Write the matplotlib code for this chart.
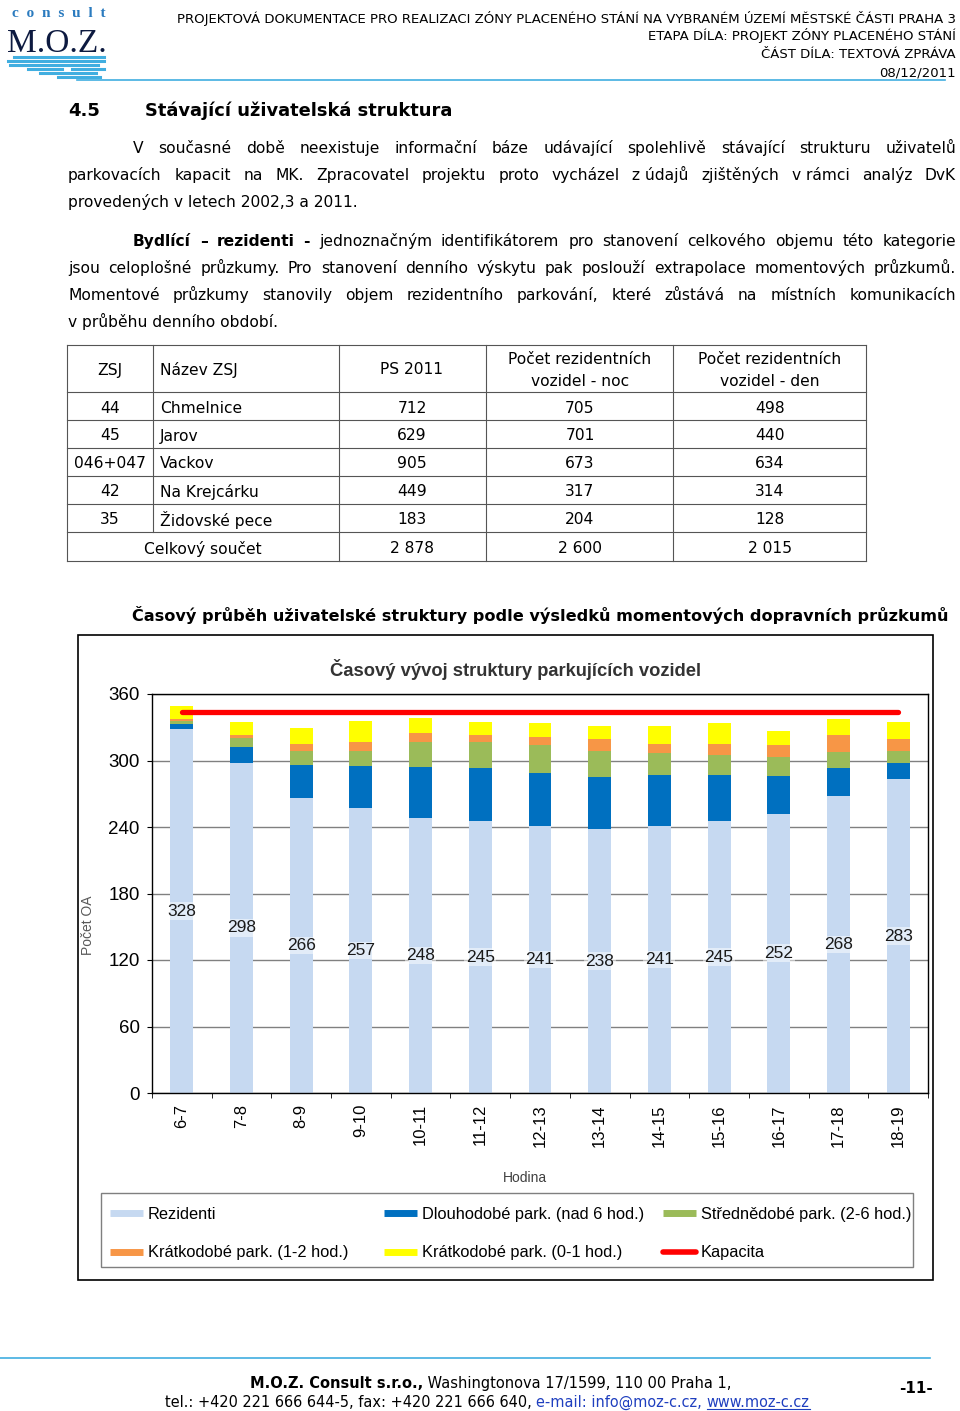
import numpy as np
import matplotlib
matplotlib.use('Agg')
import matplotlib.pyplot as plt
from matplotlib.lines import Line2D
from matplotlib.patches import Rectangle

# tabulka ZSJ
zsj = ['44', '45', '046+047', '42', '35']
nazev_zsj = ['Chmelnice', 'Jarov', 'Vackov', 'Na Krejcárku', 'Židovské pece']
ps_2011 = [712, 629, 905, 449, 183]
rez_noc = [705, 701, 673, 317, 204]
rez_den = [498, 440, 634, 314, 128]
soucet = ['2 878', '2 600', '2 015']

# graf - casovy vyvoj
hodiny = ['6-7', '7-8', '8-9', '9-10', '10-11', '11-12', '12-13',
          '13-14', '14-15', '15-16', '16-17', '17-18', '18-19']
rezidenti = [328, 298, 266, 257, 248, 245, 241, 238, 241, 245, 252, 268, 283]
dlouhodobe = [5, 14, 30, 38, 46, 48, 48, 47, 46, 42, 34, 25, 15]
strednedobe = [3, 8, 13, 14, 23, 24, 25, 24, 20, 18, 17, 15, 11]
kratkodobe_12 = [1, 3, 6, 8, 8, 6, 7, 10, 8, 10, 11, 15, 10]
kratkodobe_01 = [12, 12, 14, 19, 13, 12, 13, 12, 16, 19, 13, 14, 16]
kapacita = 344

hlavicka = ['PROJEKTOVÁ DOKUMENTACE PRO REALIZACI ZÓNY PLACENÉHO STÁNÍ NA VYBRANÉM ÚZEMÍ MĚSTSKÉ ČÁSTI PRAHA 3',
            'ETAPA DÍLA: PROJEKT ZÓNY PLACENÉHO STÁNÍ',
            'ČÁST DÍLA: TEXTOVÁ ZPRÁVA',
            '08/12/2011']

odst1 = ['V současné době neexistuje informační báze udávající spolehlivě stávající strukturu uživatelů',
         'parkovacích kapacit na MK. Zpracovatel projektu proto vycházel z\u00a0údajů zjištěných v\u00a0rámci analýz DvK',
         'provedených v letech 2002,3 a 2011.']
odst2 = ['Bydlící – rezidenti - jednoznačným identifikátorem pro stanovení celkového objemu této kategorie',
         'jsou celoplošné průzkumy. Pro stanovení denního výskytu pak poslouží extrapolace momentových průzkumů.',
         'Momentové průzkumy stanovily objem rezidentního parkování, které zůstává na místních komunikacích',
         'v průběhu denního období.']

BODY = 'DejaVu Sans'
CHART = 'Liberation Sans'
W, H = 960, 1411

fig = plt.figure(figsize=(9.6, 14.11), dpi=100)
rend = fig.canvas.get_renderer()


def fx(x):
    return x / W


def fy(y):
    return 1 - y / H


def txt(x, y, s, size=11, bold=False, ha='left', va='baseline', color='black', family=BODY, **kw):
    return fig.text(fx(x), fy(y), s, fontsize=size, fontweight='bold' if bold else 'normal',
                    ha=ha, va=va, color=color, family=family, **kw)


def width(t):
    return t.get_window_extent(rend).width


def fit(x, y, s, w, size, **kw):
    t = txt(x, y, s, size, **kw)
    t.set_fontsize(size * w / width(t))
    return t


def hline(x0, x1, y, color='#404040', lw=0.8):
    fig.add_artist(Line2D([fx(x0), fx(x1)], [fy(y), fy(y)], transform=fig.transFigure, color=color, lw=lw))


def vline(x, y0, y1, color='#404040', lw=0.8):
    fig.add_artist(Line2D([fx(x), fx(x)], [fy(y0), fy(y1)], transform=fig.transFigure, color=color, lw=lw))


def justify(x0, x1, y, line, size, nbold=0):
    words = line.split(' ')
    ts = [txt(x0, y, w, size, bold=i < nbold) for i, w in enumerate(words)]
    ws = [width(t) for t in ts]
    gap = (x1 - x0 - sum(ws)) / (len(ts) - 1)
    x = x0
    for t, w in zip(ts, ws):
        t.set_x(fx(x))
        x += w + gap


def runs(x0, x1, y, parts, size=11):
    # parts: (text, bold, color); scaled so the whole line spans x0..x1
    ts = [txt(x0, y, s, size, bold=b, color=c) for s, b, c in parts]
    k = (x1 - x0) / sum(width(t) for t in ts)
    x = x0
    for t in ts:
        t.set_fontsize(size * k)
    for t in ts:
        t.set_x(fx(x))
        x += width(t)
    return ts


# ---- logo + hlavicka
fit(12, 17, 'c  o  n  s  u  l  t', 93, 8, bold=True, color='#2b7bbf', family='Liberation Serif')
fit(7, 52, 'M.O.Z.', 100, 24, color='#0d1a40', family='Liberation Serif')
for yy, a, b in [(57, 14, 104), (61, 8, 104), (65, 10, 98), (69, 28, 62), (69, 72, 104),
                 (73, 40, 96), (77, 58, 100)]:
    hline(a, b, yy, color='#41aee0', lw=2.2)
hline(77, 945, 80, color='#41aee0', lw=1.2)

t0 = fit(956, 23, hlavicka[0], 784, 9, ha='right')
hs = t0.get_fontsize()
for yy, s in zip([40, 58, 76], hlavicka[1:]):
    txt(956, yy, s, hs, ha='right')

# ---- nadpis a text
txt(68, 116, '4.5', 13, bold=True)
fit(145, 116, 'Stávající uživatelská struktura', 305, 13, bold=True)

bs = 11.2
justify(133, 956, 153, odst1[0], bs)
justify(68, 956, 180, odst1[1], bs)
txt(68, 207, odst1[2], bs)
justify(133, 956, 246, odst2[0], bs, nbold=4)
justify(68, 956, 273, odst2[1], bs)
justify(68, 956, 300, odst2[2], bs)
txt(68, 327, odst2[3], bs)

# ---- tabulka
cols = [67, 153, 339, 486, 673, 866]
rows = [345, 392, 420, 448, 476, 504, 532, 561]
for yy in rows:
    hline(67, 866, yy, color='#555555')
for xx in cols:
    vline(xx, 345, 532 if xx == 153 else 561, color='#555555')

ts = 11.2
txt(110, 370, 'ZSJ', ts, ha='center', va='center')
txt(160, 370, 'Název ZSJ', ts, va='center')
txt(412, 370, 'PS 2011', ts, ha='center', va='center')
for xc, kdy in [(580, 'noc'), (770, 'den')]:
    txt(xc, 359, 'Počet rezidentních', ts, ha='center', va='center')
    txt(xc, 381, 'vozidel - ' + kdy, ts, ha='center', va='center')
for i in range(len(zsj)):
    yc = (rows[i + 1] + rows[i + 2]) / 2 + 2
    txt(110, yc, zsj[i], ts, ha='center', va='center')
    txt(160, yc, nazev_zsj[i], ts, va='center')
    txt(412, yc, str(ps_2011[i]), ts, ha='center', va='center')
    txt(580, yc, str(rez_noc[i]), ts, ha='center', va='center')
    txt(770, yc, str(rez_den[i]), ts, ha='center', va='center')
yc = (rows[-2] + rows[-1]) / 2 + 2
txt(203, yc, 'Celkový součet', ts, ha='center', va='center')
for xc, s in zip([412, 580, 770], soucet):
    txt(xc, yc, s, ts, ha='center', va='center')

fit(132, 621, 'Časový průběh uživatelské struktury podle výsledků momentových dopravních průzkumů',
    812, 12, bold=True)

# ---- graf
fig.add_artist(Rectangle((fx(78), fy(1280)), 855 / W, 645 / H, transform=fig.transFigure,
                         fill=False, ec='black', lw=1.2))

ax = fig.add_axes([fx(152), fy(1093), 776 / W, 399 / H])
x = np.arange(len(hodiny))
serie = [(rezidenti, '#c6d9f1', 'Rezidenti'),
         (dlouhodobe, '#0070c0', 'Dlouhodobé park. (nad 6 hod.)'),
         (strednedobe, '#9bbb59', 'Střednědobé park. (2-6 hod.)'),
         (kratkodobe_12, '#f79646', 'Krátkodobé park. (1-2 hod.)'),
         (kratkodobe_01, '#ffff00', 'Krátkodobé park. (0-1 hod.)')]
bottom = np.zeros(len(hodiny))
for vals, col, lab in serie:
    ax.bar(x, vals, 0.385, bottom=bottom, color=col, zorder=2)
    bottom += np.array(vals)
ax.plot([x[0], x[-1]], [kapacita, kapacita], color='#ff0000', lw=3.8,
        solid_capstyle='round', zorder=3)
for i, v in enumerate(rezidenti):
    ax.text(i, v / 2, str(v), ha='center', va='center', fontsize=12.5, family=CHART,
            color='#1a1a1a', zorder=4,
            bbox=dict(fc='white', alpha=0.5, ec='none', pad=1))

ax.set_xlim(-0.5, 12.5)
ax.set_ylim(0, 360)
ax.set_yticks(range(0, 361, 60))
ax.yaxis.grid(True, color='#808080', lw=1)
ax.set_axisbelow(True)
ax.set_xticks(x)
ax.set_xticklabels(hodiny, rotation=90, family=CHART, fontsize=12)
ax.set_xticks(np.arange(-0.5, 13, 1), minor=True)
ax.tick_params(axis='x', which='major', length=0, pad=8)
ax.tick_params(axis='x', which='minor', length=3.5, direction='out')
ax.tick_params(axis='y', length=3.5, pad=5.5, labelsize=13.5)
for lab in ax.get_yticklabels():
    lab.set_family(CHART)
for sp in ax.spines.values():
    sp.set_linewidth(1)

fig.text(fx(515), fy(670), 'Časový vývoj struktury parkujících vozidel', ha='center', va='center',
         fontsize=13.2, fontweight='bold', family=CHART, color='#333333')
fig.text(fx(88), fy(925), 'Počet OA', rotation=90, ha='center', va='center',
         fontsize=10, family=CHART, color='#595959')
fig.text(fx(525), fy(1178), 'Hodina', ha='center', va='center',
         fontsize=10, family=CHART, color='#404040')

# legenda: tri sloupce po dvou polozkach
hand = [Line2D([], [], color=c, lw=5, solid_capstyle='butt') for _, c, _ in serie]
hand.append(Line2D([], [], color='#ff0000', lw=4, solid_capstyle='round'))
labs = [s[2] for s in serie] + ['Kapacita']
fig.add_artist(Rectangle((fx(101), fy(1267)), 812 / W, 74 / H, transform=fig.transFigure,
                         fill=False, ec='#7f7f7f', lw=1))
for x_col, idx in [(110, [0, 3]), (384, [1, 4]), (663, [2, 5])]:
    fig.legend([hand[i] for i in idx], [labs[i] for i in idx], loc='upper left',
               bbox_to_anchor=(fx(x_col), fy(1207)), frameon=False, borderpad=0,
               borderaxespad=0, handlelength=2.0, handletextpad=0.3, labelspacing=1.42,
               prop={'family': CHART, 'size': 11.8})

# ---- paticka
hline(0, 930, 1358, color='#41aee0', lw=1.2)
runs(250, 727, 1388, [('M.O.Z. Consult s.r.o.,', True, 'black'),
                      (' Washingtonova 17/1599, 110 00 Praha 1,', False, 'black')])
p2 = runs(165, 810, 1407, [('tel.: +420 221 666 644-5, fax: +420 221 666 640, ', False, 'black'),
                           ('e-mail: info@moz-c.cz, ', False, '#1f3fbf'),
                           ('www.moz-c.cz', False, '#1f3fbf')])
hline(810 - width(p2[-1]), 810, 1409, color='#1f3fbf', lw=0.8)
txt(916, 1393, '-11-', 11, bold=True, ha='center')

fig.savefig('out.png', dpi=100)
